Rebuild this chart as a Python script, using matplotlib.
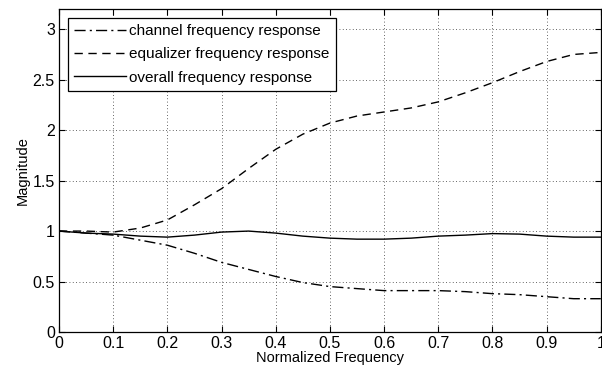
import matplotlib
matplotlib.use("Agg")
import matplotlib.pyplot as plt

plt.rcParams['font.family'] = ['Liberation Sans', 'DejaVu Sans']

# values
freq = [0.0, 0.05, 0.1, 0.15, 0.2, 0.25, 0.3, 0.35, 0.4, 0.45, 0.5,
        0.55, 0.6, 0.65, 0.7, 0.75, 0.8, 0.85, 0.9, 0.95, 1.0]
channel = [1.0, 0.98, 0.96, 0.91, 0.86, 0.78, 0.69, 0.62, 0.55, 0.49, 0.45,
           0.43, 0.41, 0.41, 0.41, 0.40, 0.38, 0.37, 0.35, 0.33, 0.33]
equalizer = [1.0, 1.0, 0.99, 1.03, 1.11, 1.26, 1.42, 1.62, 1.81, 1.96, 2.07,
             2.14, 2.18, 2.22, 2.28, 2.37, 2.47, 2.58, 2.68, 2.75, 2.77]
overall = [1.0, 0.98, 0.97, 0.95, 0.94, 0.96, 0.99, 1.0, 0.98, 0.95, 0.93,
           0.92, 0.92, 0.93, 0.95, 0.96, 0.975, 0.97, 0.95, 0.94, 0.94]

xticks = [0, 0.1, 0.2, 0.3, 0.4, 0.5, 0.6, 0.7, 0.8, 0.9, 1]
xticklabels = ['0', '0.1', '0.2', '0.3', '0.4', '0.5', '0.6', '0.7', '0.8', '0.9', '1']
yticks = [0, 0.5, 1, 1.5, 2, 2.5, 3]
yticklabels = ['0', '0.5', '1', '1.5', '2', '2.5', '3']

fig = plt.figure(figsize=(6.02, 3.76), dpi=100)
ax = fig.add_axes([0.098, 0.117, 0.9, 0.859])

ax.plot(freq, channel, color='black', lw=1.0, linestyle=(0, (8, 3, 1.5, 3)),
        label='channel frequency response')
ax.plot(freq, equalizer, color='black', lw=1.0, linestyle=(0, (6, 4)),
        label='equalizer frequency response')
ax.plot(freq, overall, color='black', lw=1.0, linestyle='-',
        label='overall frequency response')

ax.set_xlim(0, 1)
ax.set_ylim(0, 3.2)
ax.set_xticks(xticks)
ax.set_xticklabels(xticklabels)
ax.set_yticks(yticks)
ax.set_yticklabels(yticklabels)
ax.tick_params(direction='in', top=True, right=True, labelsize=11.5, length=4, pad=3)
ax.grid(True, color='#333333', linestyle=(0, (1, 3)), lw=0.6)
for s in ax.spines.values():
    s.set_linewidth(0.9)

ax.set_xlabel('Normalized Frequency', fontsize=10.5, labelpad=0)
ax.set_ylabel('Magnitude', fontsize=10.5, labelpad=2)

leg = ax.legend(loc='upper left', fontsize=11, handlelength=3.4, labelspacing=0.6,
                handletextpad=0.2, borderpad=0.4, borderaxespad=0.6,
                fancybox=False, framealpha=1, edgecolor='black')
leg.get_frame().set_linewidth(0.9)

fig.savefig('out.png', dpi=100)
